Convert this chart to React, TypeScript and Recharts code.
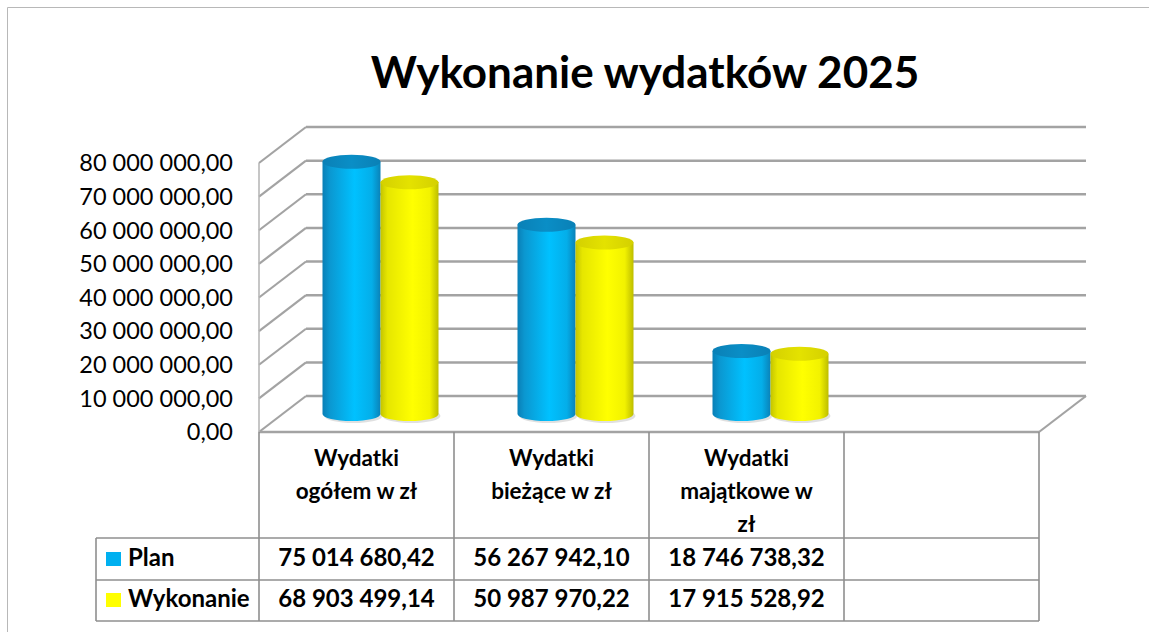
import React from "react";
import { BarChart, Bar, XAxis, YAxis, CartesianGrid } from "recharts";

// chart data
const categories = ["Wydatki ogółem w zł", "Wydatki bieżące w zł", "Wydatki majątkowe w zł", ""];
const headerLines = [["Wydatki", "ogółem w zł"], ["Wydatki", "bieżące w zł"], ["Wydatki", "majątkowe w", "zł"], []];
const planValues = [75014680.42, 56267942.1, 18746738.32, null];
const execValues = [68903499.14, 50987970.22, 17915528.92, null];
const yTicks = [0, 10000000, 20000000, 30000000, 40000000, 50000000, 60000000, 70000000, 80000000];
const seriesNames = ["Plan", "Wykonanie"];
const seriesColors = ["#00b0f0", "#ffff00"];

const data = categories.map((name, i) => ({ name, plan: planValues[i], exec: execValues[i] }));

// layout
const W = 1149;
const H = 632;
const PLOT_L = 259;
const PLOT_R = 1039;
const PLOT_T = 163;
const PLOT_B = 432;
const DX = 47;
const DY = 36;
const YAXIS_W = 180;
const TABLE_L = 96;
const ROW_H = [538, 580, 621];
const COL_W = (PLOT_R - PLOT_L) / categories.length;
const FONT = "Lato, 'Open Sans', sans-serif";
const GRID = "#a3a3a3";
const TABLE_LINE = "#8f8f8f";

const fmt = (v: number) => {
  const [int, dec] = v.toFixed(2).split(".");
  return int.replace(/\B(?=(\d{3})+(?!\d))/g, " ") + "," + dec;
};

const wallLine = (props: any) => {
  const { x1, y1, x2, index } = props;
  const base = Math.abs(y1 - PLOT_B) < 0.6;
  return (
    <g key={"wall-" + index}>
      <line x1={x1} y1={y1} x2={x1 + DX} y2={y1 - DY} stroke={GRID} strokeWidth={2.2} />
      <line x1={x1 + DX} y1={y1 - DY} x2={x2 + DX} y2={y1 - DY} stroke={GRID} strokeWidth={2.5} />
      {base && <line x1={x2} y1={y1} x2={x2 + DX} y2={y1 - DY} stroke={GRID} strokeWidth={2.2} />}
    </g>
  );
};

const gradients = [
  {
    body: [["0%", "#0a7fb6"], ["12%", "#0b97d0"], ["55%", "#00c1ff"], ["85%", "#04aee9"], ["100%", "#0a82b8"]],
    top: [["0%", "#0a80b6"], ["50%", "#0a8ec6"], ["100%", "#0a80b6"]],
  },
  {
    body: [["0%", "#c4c400"], ["12%", "#e6e600"], ["55%", "#ffff00"], ["85%", "#f2f200"], ["100%", "#bdbd00"]],
    top: [["0%", "#d4d000"], ["50%", "#e4e200"], ["100%", "#d4d000"]],
  },
];

const Cylinder = (props: any) => {
  const { x, y, width, height, index, series } = props;
  if (height == null || !(height > 0)) return null;
  const g = gradients[series];
  const id = `cyl-${series}-${index}`;
  const left = x + DX / 2;
  const right = left + width;
  const rx = width / 2;
  const ry = 7;
  const top = y - DY / 2;
  const bot = y + height - DY / 2;
  return (
    <g>
      <defs>
        <linearGradient id={id + "-b"} x1="0" y1="0" x2="1" y2="0">
          {g.body.map(([o, c]) => <stop key={o} offset={o} stopColor={c} />)}
        </linearGradient>
        <linearGradient id={id + "-t"} x1="0" y1="0" x2="1" y2="0">
          {g.top.map(([o, c]) => <stop key={o} offset={o} stopColor={c} />)}
        </linearGradient>
      </defs>
      <ellipse cx={left + rx + 2} cy={bot + 2} rx={rx} ry={ry} fill="rgba(0,0,0,0.12)" />
      <path
        d={`M${left},${top} L${left},${bot} A${rx},${ry} 0 0 0 ${right},${bot} L${right},${top} Z`}
        fill={`url(#${id}-b)`}
      />
      <ellipse cx={left + rx} cy={top} rx={rx} ry={ry} fill={`url(#${id}-t)`} />
    </g>
  );
};

const ColumnTick = (props: any) => {
  const { x, payload } = props;
  const i = payload.index;
  const l = x - COL_W / 2;
  const r = x + COL_W / 2;
  const lines = headerLines[i] || [];
  const vals = [planValues[i], execValues[i]];
  return (
    <g fontFamily={FONT} fontWeight={700} fill="#000">
      <line x1={l} y1={PLOT_B} x2={l} y2={ROW_H[2]} stroke={TABLE_LINE} strokeWidth={1.6} />
      {i === categories.length - 1 && (
        <line x1={r} y1={PLOT_B} x2={r} y2={ROW_H[2]} stroke={TABLE_LINE} strokeWidth={1.6} />
      )}
      {lines.map((t, k) => (
        <text key={k} x={x} y={466 + k * 33} textAnchor="middle" fontSize={22.5}>
          {t}
        </text>
      ))}
      {vals.map((v, k) =>
        v == null ? null : (
          <text key={"v" + k} x={x} y={k === 0 ? 566 : 607} textAnchor="middle" fontSize={24}>
            {fmt(v)}
          </text>
        )
      )}
    </g>
  );
};

export default function App() {
  return (
    <div style={{ position: "absolute", left: 0, top: 0, width: W, height: H, background: "#fff" }}>
      <BarChart
        width={W}
        height={H}
        data={data}
        barGap={0}
        margin={{ top: PLOT_T, right: W - PLOT_R, bottom: 0, left: PLOT_L - YAXIS_W }}
      >
        <CartesianGrid vertical={false} horizontal={wallLine} />
        <XAxis
          dataKey="name"
          height={H - PLOT_B}
          interval={0}
          tickLine={false}
          axisLine={{ stroke: GRID, strokeWidth: 2.5 }}
          tick={ColumnTick}
        />
        <YAxis
          width={YAXIS_W}
          domain={[0, 80000000]}
          ticks={yTicks}
          tickFormatter={fmt}
          tickLine={false}
          tickSize={0}
          tickMargin={26}
          axisLine={{ stroke: "#b3b3b3", strokeWidth: 1.5 }}
          tick={{ fill: "#000", fontSize: 23.5, fontFamily: FONT }}
        />
        <Bar dataKey="plan" name={seriesNames[0]} fill={seriesColors[0]} barSize={58} isAnimationActive={false}
          shape={(p: any) => <Cylinder {...p} series={0} />} />
        <Bar dataKey="exec" name={seriesNames[1]} fill={seriesColors[1]} barSize={58} isAnimationActive={false}
          shape={(p: any) => <Cylinder {...p} series={1} />} />
      </BarChart>
      <svg width={W} height={H} style={{ position: "absolute", left: 0, top: 0, pointerEvents: "none" }}>
        <path d={`M7.5,${H} L7.5,7.5 L${W},7.5`} fill="none" stroke="#b8b8b8" strokeWidth={1} />
        <text x={645} y={88} textAnchor="middle" fontFamily={FONT} fontWeight={700} fontSize={44} fill="#000">
          Wykonanie wydatków 2025
        </text>
        {ROW_H.map((y) => (
          <line key={y} x1={TABLE_L} y1={y} x2={PLOT_R} y2={y} stroke={TABLE_LINE} strokeWidth={1.6} />
        ))}
        <line x1={TABLE_L} y1={ROW_H[0]} x2={TABLE_L} y2={ROW_H[2]} stroke={TABLE_LINE} strokeWidth={1.6} />
        {seriesNames.map((n, k) => (
          <g key={n}>
            <rect x={106} y={k === 0 ? 552 : 593} width={15} height={14} fill={seriesColors[k]} />
            <text x={128} y={k === 0 ? 566 : 607} fontFamily={FONT} fontWeight={700} fontSize={24} fill="#000">
              {n}
            </text>
          </g>
        ))}
      </svg>
    </div>
  );
}
